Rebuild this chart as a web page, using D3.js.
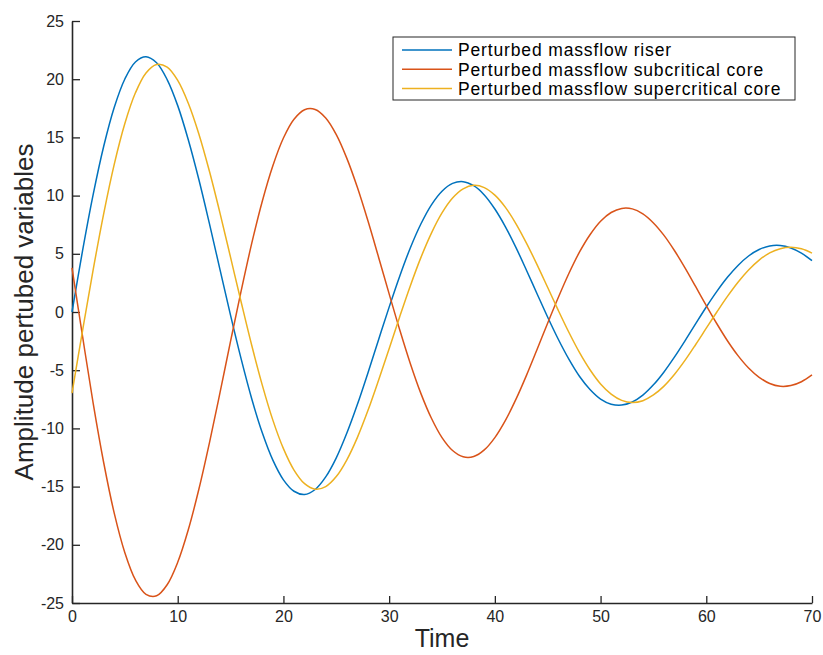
<!DOCTYPE html>
<html>
<head>
<meta charset="utf-8">
<script src="https://cdn.jsdelivr.net/npm/d3@7"></script>
<style>
  body { margin: 0; background: #fff; }
  text { font-family: "Liberation Sans", Arial, Helvetica, sans-serif; }
</style>
</head>
<body>
<div id="chart"></div>
<script>
// values, one sample per time unit (t = 0..70)
var time = d3.range(0, 71);

var riser = [0, 5.27, 10.08, 14.24, 17.59, 20.02, 21.48, 21.93, 21.41, 19.97,
  17.73, 14.80, 11.38, 7.59, 3.64, -0.29, -4.03, -7.45, -10.38, -12.73,
  -14.42, -15.40, -15.68, -15.25, -14.17, -12.53, -10.40, -7.93, -5.21, -2.38,
  0.42, 3.08, 5.50, 7.56, 9.21, 10.38, 11.05, 11.20, 10.85, 10.06,
  8.85, 7.32, 5.53, 3.57, 1.55, -0.45, -2.34, -4.05, -5.52, -6.66,
  -7.48, -7.92, -8.00, -7.73, -7.14, -6.26, -5.15, -3.86, -2.46, -1.00,
  0.43, 1.77, 2.98, 4.00, 4.81, 5.37, 5.67, 5.71, 5.50, 5.06, 4.41];

var subcritical = [3.8, -2.10, -7.83, -12.95, -17.30, -20.68, -23.02, -24.25, -24.38, -23.43,
  -21.50, -18.71, -15.23, -11.24, -6.93, -2.51, 1.81, 5.89, 9.52, 12.57,
  14.95, 16.56, 17.38, 17.40, 16.67, 15.24, 13.20, 10.69, 7.81, 4.71,
  1.56, -1.53, -4.42, -6.99, -9.13, -10.79, -11.90, -12.44, -12.42, -11.85,
  -10.79, -9.31, -7.49, -5.42, -3.20, -0.94, 1.25, 3.31, 5.14, 6.64,
  7.80, 8.55, 8.90, 8.86, 8.43, 7.65, 6.58, 5.26, 3.77, 2.17,
  0.55, -1.01, -2.47, -3.75, -4.81, -5.61, -6.14, -6.38, -6.32, -5.99, -5.41];

var supercritical = [-6.97, -1.59, 3.62, 8.45, 12.70, 16.19, 18.83, 20.54, 21.27, 21.04,
  19.90, 17.94, 15.30, 12.09, 8.50, 4.69, 0.86, -2.86, -6.28, -9.29,
  -11.74, -13.58, -14.75, -15.22, -15.00, -14.14, -12.70, -10.77, -8.45, -5.86,
  -3.15, -0.40, 2.24, 4.67, 6.78, 8.51, 9.79, 10.58, 10.88, 10.69,
  10.04, 8.99, 7.58, 5.90, 4.05, 2.10, 0.14, -1.74, -3.47, -4.96,
  -6.18, -7.05, -7.59, -7.78, -7.62, -7.13, -6.37, -5.35, -4.14, -2.79,
  -1.39, 0.00, 1.34, 2.56, 3.61, 4.46, 5.08, 5.44, 5.56, 5.43, 5.06];

var seriesNames = ["Perturbed massflow riser", "Perturbed massflow subcritical core", "Perturbed massflow supercritical core"];
var seriesColors = ["#0072BD", "#D95319", "#EDB120"];
var xTicks = [0, 10, 20, 30, 40, 50, 60, 70];
var yTicks = [-25, -20, -15, -10, -5, 0, 5, 10, 15, 20, 25];

var margin = {top: 21, right: 11, bottom: 52, left: 72},
    width = 823 - margin.left - margin.right,
    height = 655 - margin.top - margin.bottom;

var svg = d3.select("#chart")
  .append("svg")
    .attr("width", 823)
    .attr("height", 655)
  .append("g")
    .attr("transform", "translate(" + margin.left + "," + margin.top + ")");

var x = d3.scaleLinear().domain([0, 70]).range([0, width]);
var y = d3.scaleLinear().domain([-25, 25]).range([height, 0]);

// plain hyphen for negatives, like the original
var plain = function(d) { return String(d); };

// axes, ticks pointing inward like matlab
var xAxis = svg.append("g")
  .attr("transform", "translate(0," + height + ")")
  .call(d3.axisBottom(x).tickValues(xTicks).tickFormat(plain).tickSizeInner(-7).tickSizeOuter(0).tickPadding(8));
var yAxis = svg.append("g")
  .call(d3.axisLeft(y).tickValues(yTicks).tickFormat(plain).tickSizeInner(-8).tickSizeOuter(0).tickPadding(8));

[xAxis, yAxis].forEach(function(a) {
  a.select(".domain").attr("stroke", "#262626").attr("stroke-width", 1.6);
  a.selectAll(".tick line").attr("stroke", "#262626").attr("stroke-width", 1.3);
  a.selectAll(".tick text")
    .attr("fill", "#262626")
    .style("font-size", "16px")
    .style("font-family", "'Liberation Sans', Arial, sans-serif");
});

// lines
var allSeries = [riser, subcritical, supercritical];
var line = d3.line()
  .x(function(d, i) { return x(time[i]); })
  .y(function(d) { return y(d); })
  .curve(d3.curveCatmullRom);

svg.selectAll(".series")
  .data(allSeries)
  .enter()
  .append("path")
    .attr("class", "series")
    .attr("d", line)
    .attr("fill", "none")
    .attr("stroke", function(d, i) { return seriesColors[i]; })
    .attr("stroke-width", 1.5);

// axis labels
svg.append("text")
  .attr("x", width / 2)
  .attr("y", height + 44)
  .attr("text-anchor", "middle")
  .attr("fill", "#262626")
  .style("font-size", "25px")
  .text("Time");

svg.append("text")
  .attr("transform", "translate(" + (33 - margin.left) + "," + (height / 2) + ") rotate(-90)")
  .attr("text-anchor", "middle")
  .attr("fill", "#262626")
  .style("font-size", "26px")
  .text("Amplitude pertubed variables");

// legend
var legend = svg.append("g")
  .attr("transform", "translate(" + (393 - margin.left) + "," + (37 - margin.top) + ")");
legend.append("rect")
  .attr("width", 402)
  .attr("height", 63)
  .attr("fill", "#fff")
  .attr("stroke", "#262626")
  .attr("stroke-width", 1);

var rows = legend.selectAll(".row")
  .data(seriesNames)
  .enter()
  .append("g")
    .attr("class", "row")
    .attr("transform", function(d, i) { return "translate(0," + (13 + i * 19.3) + ")"; });
rows.append("line")
  .attr("x1", 9).attr("x2", 59)
  .attr("stroke", function(d, i) { return seriesColors[i]; })
  .attr("stroke-width", 1.5);
rows.append("text")
  .attr("x", 65)
  .attr("dy", "0.36em")
  .attr("fill", "#000")
  .style("font-size", "17.5px")
  .style("letter-spacing", "0.85px")
  .text(function(d) { return d; });
</script>
</body>
</html>
